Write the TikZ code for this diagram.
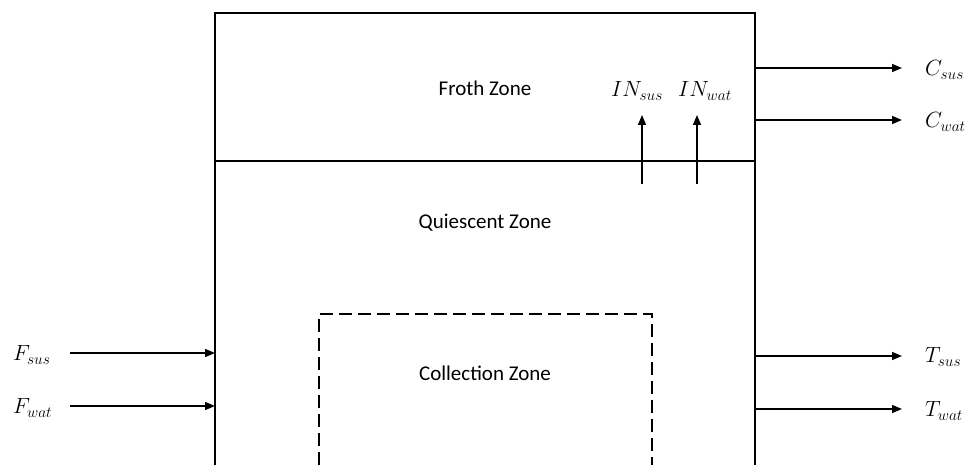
\documentclass[tikz,border=0pt]{standalone}
\usepackage{fix-cm}
\usepackage{fontspec}
\setmainfont{Carlito}
\usepackage{tikz}
\usetikzlibrary{arrows.meta,positioning}

\tikzset{
	zone/.style={font=\fontsize{21}{25}\selectfont},
	stream/.style={font=\fontsize{22}{26}\selectfont, inner sep=0pt},
	flow/.style={line width=1.4pt, -{Triangle[length=10pt, width=8pt]}},
}

\begin{document}
\begin{tikzpicture}[x=1pt, y=-1pt, >=Triangle]
		\useasboundingbox (0,0) rectangle (966,465);
		% Draw cell walls, froth interface and collection zone
		\draw[line width=1.8pt] (215,465) -- (215,13) -- (755,13) -- (755,465);
		\draw[line width=1.6pt] (215,161) -- (755,161);
		\draw[line width=1.8pt, dash pattern=on 13pt off 6pt] (319,465) -- (319,314) -- (652,314) -- (652,465);
		% Zone names
		\node[zone] (froth) at (485,88) {Froth Zone};
		\node[zone] (quiet) at (485,223) {Quiescent Zone};
		\node[zone] (collect) at (485,373) {Collection Zone};
		% Feed streams on the left
		\node[stream, anchor=west] (fsus) at (13,355) {$F_{sus}$};
		\node[stream, anchor=west] (fwat) at (13,408) {$F_{wat}$};
		\coordinate (fsus-a) at (70,353);
		\coordinate (fsus-b) at (215,353);
		\coordinate (fwat-a) at (70,406);
		\coordinate (fwat-b) at (215,406);
		\draw[flow] (fsus-a) -- (fsus-b);
		\draw[flow] (fwat-a) -- (fwat-b);
		% Concentrate streams
		\node[stream, anchor=west] (csus) at (925,70) {$C_{sus}$};
		\node[stream, anchor=west] (cwat) at (925,122) {$C_{wat}$};
		\coordinate (csus-a) at (755,68);
		\coordinate (csus-b) at (902,68);
		\coordinate (cwat-a) at (755,120);
		\coordinate (cwat-b) at (902,120);
		\draw[flow] (csus-a) -- (csus-b);
		\draw[flow] (cwat-a) -- (cwat-b);
		% Tailings streams
		\node[stream, anchor=west] (tsus) at (925,357) {$T_{sus}$};
		\node[stream, anchor=west] (twat) at (925,411) {$T_{wat}$};
		\coordinate (tsus-a) at (755,356);
		\coordinate (tsus-b) at (902,356);
		\coordinate (twat-a) at (755,409);
		\coordinate (twat-b) at (902,409);
		\draw[flow] (tsus-a) -- (tsus-b);
		\draw[flow] (twat-a) -- (twat-b);
		% Entrainment into the froth
		\node[stream] (insus) at (637,91) {$IN_{sus}$};
		\node[stream] (inwat) at (705,91) {$IN_{wat}$};
		\coordinate (insus-a) at (642,184);
		\coordinate (insus-b) at (642,115);
		\coordinate (inwat-a) at (697,184);
		\coordinate (inwat-b) at (697,115);
		\draw[flow] (insus-a) -- (insus-b);
		\draw[flow] (inwat-a) -- (inwat-b);
	\end{tikzpicture}
\end{document}
